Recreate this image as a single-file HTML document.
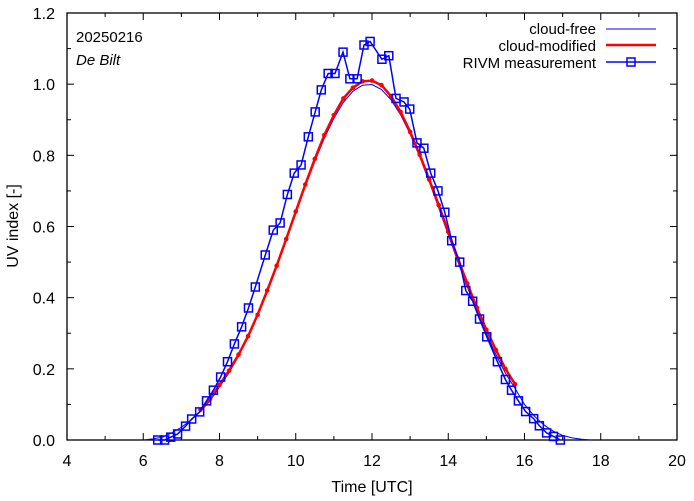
<!DOCTYPE html>
<html><head><meta charset="utf-8"><style>
body{margin:0;background:#fff}
svg{display:block;font-family:"Liberation Sans",sans-serif}
</style></head><body>
<svg id="chart" width="694" height="501" viewBox="0 0 694 501">
<g id="axes"></g><g id="series"></g>
<text x="76" y="42" font-size="15">20250216</text>
<text x="76" y="65" font-size="15" font-style="italic">De Bilt</text>
<text x="372" y="492" font-size="16" text-anchor="middle">Time  [UTC]</text>
<text x="18" y="226" font-size="16" text-anchor="middle" transform="rotate(-90 18 226)">UV index  [-]</text>
<g>
<text x="596" y="34" font-size="15" text-anchor="end">cloud-free</text>
<line x1="606" y1="29" x2="656" y2="29" stroke="#0000ff" stroke-width="1"/>
<text x="596" y="51" font-size="15" text-anchor="end">cloud-modified</text>
<line x1="606" y1="45" x2="656" y2="45" stroke="#ff0000" stroke-width="2.5"/>
<text x="596" y="68" font-size="15" text-anchor="end">RIVM measurement</text>
<line x1="606" y1="62" x2="656" y2="62" stroke="#0000ff" stroke-width="1.5"/>
<rect x="627" y="58" width="8" height="8" fill="none" stroke="#0000ff" stroke-width="1.5"/>
</g>
</svg>
<script>
const xTicks=[4,6,8,10,12,14,16,18,20];
const yTicks=[0.0,0.2,0.4,0.6,0.8,1.0,1.2];
const clearTimes=[6.0,6.25,6.5,6.75,7.0,7.25,7.5,7.75,8.0,8.25,8.5,8.75,9.0,9.25,9.5,9.75,10.0,10.25,10.5,10.75,11.0,11.25,11.5,11.75,12.0,12.25,12.5,12.75,13.0,13.25,13.5,13.75,14.0,14.25,14.5,14.75,15.0,15.25,15.5,15.75,16.0,16.25,16.5,16.75,17.0,17.25,17.5,17.75];
const clearValues=[0,0.003,0.008,0.02,0.036,0.055,0.08,0.11,0.149,0.189,0.236,0.289,0.349,0.416,0.487,0.561,0.637,0.712,0.783,0.848,0.904,0.949,0.98,0.997,0.999,0.985,0.956,0.914,0.86,0.796,0.726,0.652,0.576,0.501,0.43,0.362,0.298,0.24,0.188,0.145,0.1,0.068,0.043,0.025,0.013,0.006,0.002,0];
const modTimes=[7.5,7.75,8.0,8.25,8.5,8.75,9.0,9.25,9.5,9.75,10.0,10.25,10.5,10.75,11.0,11.25,11.5,11.75,12.0,12.25,12.5,12.75,13.0,13.25,13.5,13.75,14.0,14.25,14.5,14.75,15.0,15.25,15.5,15.75];
const modValues=[0.085,0.115,0.155,0.195,0.24,0.292,0.352,0.42,0.49,0.565,0.642,0.718,0.79,0.857,0.913,0.96,0.99,1.008,1.01,0.997,0.966,0.922,0.866,0.802,0.732,0.66,0.585,0.51,0.44,0.372,0.31,0.253,0.2,0.157];
const measTimes=[6.38,6.56,6.72,6.9,7.11,7.27,7.48,7.66,7.84,8.03,8.21,8.39,8.58,8.76,8.94,9.2,9.41,9.59,9.78,9.96,10.14,10.33,10.51,10.67,10.85,11.03,11.24,11.42,11.61,11.79,11.95,12.26,12.44,12.63,12.84,12.99,13.18,13.36,13.54,13.73,13.91,14.09,14.3,14.46,14.64,14.82,15.01,15.29,15.5,15.66,15.84,16.03,16.24,16.39,16.58,16.76,16.94];
const measValues=[0,0,0.008,0.017,0.039,0.059,0.079,0.11,0.14,0.177,0.22,0.27,0.318,0.371,0.43,0.52,0.59,0.61,0.69,0.75,0.773,0.852,0.922,0.984,1.03,1.03,1.09,1.015,1.015,1.11,1.12,1.07,1.08,0.96,0.95,0.93,0.835,0.82,0.75,0.7,0.64,0.56,0.5,0.42,0.39,0.34,0.29,0.22,0.17,0.14,0.11,0.08,0.06,0.04,0.02,0.01,0];
const L=67,R=677,T=13,B=440;
const X=t=>L+(t-4)/16*(R-L);
const Y=v=>B-v/1.2*(B-T);
const NS="http://www.w3.org/2000/svg";
function mk(tag,attrs,parent){const e=document.createElementNS(NS,tag);for(const k in attrs)e.setAttribute(k,attrs[k]);parent.appendChild(e);return e;}
const ax=document.getElementById('axes'),sr=document.getElementById('series');
const frame=mk('rect',{x:L,y:T,width:R-L,height:B-T,fill:'none',stroke:'#000','stroke-width':1.3},ax);


for(let h=4;h<=20;h++){const x=X(h),len=h%2===0?7:4;
mk('line',{x1:x,y1:B,x2:x,y2:B-len,stroke:'#000'},ax);mk('line',{x1:x,y1:T,x2:x,y2:T+len,stroke:'#000'},ax);}
for(let i=0;i<=12;i++){const v=i/10,y=Y(v),len=i%2===0?7:4;
mk('line',{x1:L,y1:y,x2:L+len,y2:y,stroke:'#000'},ax);mk('line',{x1:R,y1:y,x2:R-len,y2:y,stroke:'#000'},ax);}
xTicks.forEach(t=>{const e=mk('text',{x:X(t),y:466,'font-size':16,'text-anchor':'middle'},ax);e.textContent=t;

});
yTicks.forEach(v=>{const e=mk('text',{x:55,y:Y(v)+6,'font-size':16,'text-anchor':'end'},ax);e.textContent=v.toFixed(1);

});
const pts=(ts,vs)=>ts.map((t,i)=>X(t).toFixed(1)+','+Y(vs[i]).toFixed(1)).join(' ');
const cf=mk('polyline',{points:pts(clearTimes,clearValues),fill:'none',stroke:'#0000ff','stroke-width':1},sr);


const cm=mk('polyline',{points:pts(modTimes,modValues),fill:'none',stroke:'#ff0000','stroke-width':2.5},sr);


modTimes.forEach((t,i)=>{const c=mk('circle',{cx:X(t),cy:Y(modValues[i]),r:2.3,fill:'#ff0000'},sr);

});
const ml=mk('polyline',{points:pts(measTimes,measValues),fill:'none',stroke:'#0000ff','stroke-width':1.5},sr);


measTimes.forEach((t,i)=>{const s=mk('rect',{x:X(t)-4,y:Y(measValues[i])-4,width:8,height:8,fill:'none',stroke:'#0000ff','stroke-width':1.5},sr);

});
</script>
</body></html>
